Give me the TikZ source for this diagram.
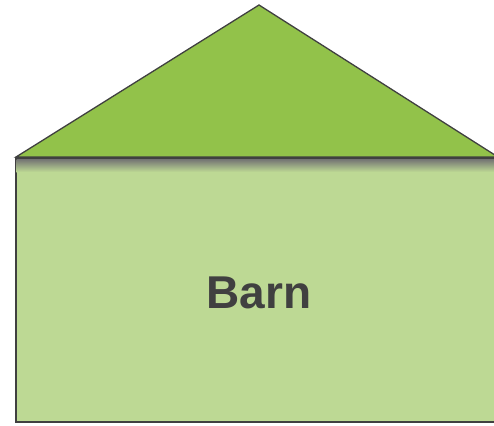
\documentclass[tikz,border=0pt]{standalone}
\usepackage{fontspec}
\setmainfont{Liberation Sans}
\definecolor{roofgreen}{HTML}{92C24A}
\definecolor{wallgreen}{HTML}{BDD994}
\definecolor{edgegray}{HTML}{404040}
\definecolor{txtgray}{HTML}{404040}
\begin{document}
\begin{tikzpicture}[x=1pt,y=-1pt,
  roofstyle/.style={fill=roofgreen,draw=edgegray,line width=1.3pt,line join=miter},
  wallstyle/.style={fill=wallgreen,draw=edgegray,line width=1.3pt}]
\useasboundingbox (0,0) rectangle (494,425);
\coordinate (apex) at (259,5);
\coordinate (bl) at (16,157);
\coordinate (br) at (498,157);
\draw[roofstyle] (bl) -- (apex) -- (br) -- cycle;
\draw[wallstyle] (16,158) rectangle (500,422);
\shade[top color=black!55, bottom color=wallgreen] (16.7,159) rectangle (499,172);
\node[font=\bfseries\fontsize{46}{46}\selectfont, text=txtgray] (barn) at (259,293) {Barn};
\end{tikzpicture}
\end{document}
